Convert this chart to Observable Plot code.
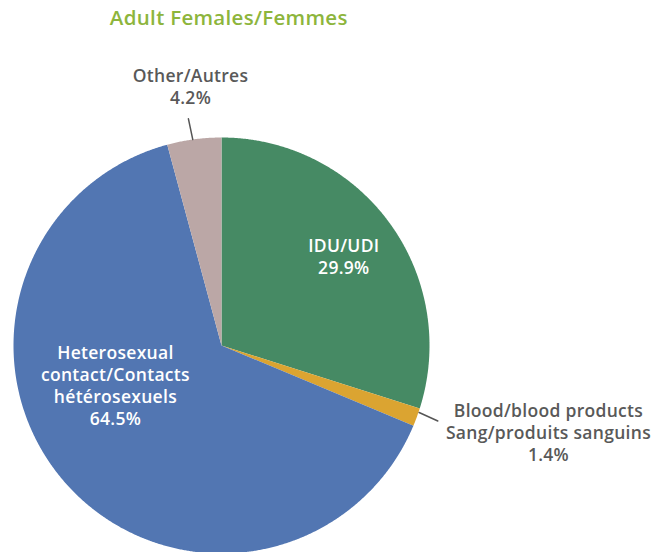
<!DOCTYPE html>
<html>
<head>
<meta charset="utf-8">
<script src="https://cdn.jsdelivr.net/npm/d3@7"></script>
<script src="https://cdn.jsdelivr.net/npm/@observablehq/plot@0.6"></script>
<style>
  html, body { margin: 0; padding: 0; background: #fff; }
</style>
</head>
<body>
<div id="chart"></div>
<script>
// ---- Data ----
const categories = ["IDU/UDI", "Blood/blood products", "Heterosexual contact", "Other/Autres"];
const values = [29.9, 1.4, 64.5, 4.2];
const labelLines = [
  ["IDU/UDI", "29.9%"],
  ["Blood/blood products", "Sang/produits sanguins", "1.4%"],
  ["Heterosexual", "contact/Contacts", "hétérosexuels", "64.5%"],
  ["Other/Autres", "4.2%"]
];
const colors = ["#468a64", "#dba431", "#5276b2", "#bba7a6"];
const title = "Adult Females/Femmes";

// ---- Layout (unit circle coordinates, y up) ----
const W = 652, H = 552;
const cx = 221, cy = 345, R = 208;
const xDomain = [-cx / R, (W - cx) / R];
const yDomain = [-(H - cy) / R, cy / R];
const labelPos = [
  {x: 0.588, y: 0.475, color: "#fff"},
  {x: 1.572, y: -0.315, color: "#595959"},
  {x: -0.51, y: -0.04, color: "#fff"},
  {x: -0.149, y: 1.295, color: "#595959"}
];
const lineStep = 22 / R;
const leaders = [
  null,
  [[0.95, -0.322], [1.04, -0.363]],
  null,
  [[-0.159, 1.09], [-0.138, 0.99]]
];

// ---- Build slices ----
const pie = d3.pie().sort(null).value(d => d)(values);
const polys = [];
pie.forEach((p, i) => {
  polys.push({x: 0, y: 0, cat: categories[i]});
  const steps = Math.max(2, Math.ceil((p.endAngle - p.startAngle) / 0.005));
  for (let k = 0; k <= steps; k++) {
    const a = p.startAngle + (p.endAngle - p.startAngle) * k / steps;
    polys.push({x: Math.sin(a), y: Math.cos(a), cat: categories[i]});
  }
});

const texts = [];
labelLines.forEach((lines, i) => {
  lines.forEach((t, j) => {
    texts.push({x: labelPos[i].x, y: labelPos[i].y - j * lineStep, t, color: labelPos[i].color});
  });
});
const leaderPts = [];
leaders.forEach((l, i) => { if (l) l.forEach(pt => leaderPts.push({x: pt[0], y: pt[1], k: i})); });

const chart = Plot.plot({
  width: W, height: H,
  margin: 0,
  x: {domain: xDomain, axis: null},
  y: {domain: yDomain, axis: null},
  color: {domain: categories, range: colors},
  style: {fontFamily: "'Open Sans', sans-serif", background: "#fff", letterSpacing: "0.3px"},
  marks: [
    Plot.line(polys, {x: "x", y: "y", z: "cat", fill: "cat", stroke: "none", curve: "linear-closed"}),
    Plot.line(leaderPts, {x: "x", y: "y", z: "k", stroke: "#555", strokeWidth: 1.5}),
    Plot.text(texts, {x: "x", y: "y", text: "t", fill: d => d.color, fontSize: 17.5, fontWeight: 600, textAnchor: "middle"}),
    Plot.text([title], {x: 0.035, y: (cy - 18) / R, text: d => d, fill: "#8db53c", fontSize: 20.5, fontWeight: 600, textAnchor: "middle"})
  ]
});
document.getElementById("chart").append(chart);
</script>
</body>
</html>
